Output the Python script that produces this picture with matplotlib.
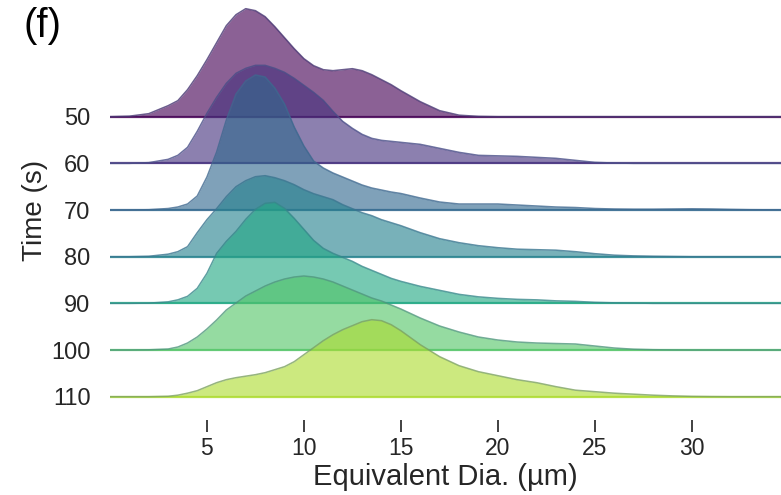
import matplotlib.pyplot as plt
import matplotlib.colors as mcolors
import numpy as np

plt.rcParams['font.family'] = ['Liberation Sans', 'DejaVu Sans']

times = [50, 60, 70, 80, 90, 100, 110]
dia = [0, 1, 2, 3, 3.5, 4, 4.5, 5, 5.5, 6, 6.5, 7, 7.5, 8, 8.5, 9, 9.5, 10,
       10.5, 11, 11.5, 12, 12.5, 13, 13.5, 14, 14.5, 15, 16, 17, 18, 19, 20,
       21, 22, 23, 24, 25, 26, 27, 28, 29, 30, 31, 32, 33, 34, 35]

# relative density (arbitrary units)
d50 = [0, 0.5, 3, 11, 16, 27, 41, 57, 74, 91, 102, 108, 106, 100, 90, 79, 68, 58,
       51, 47, 46, 47, 48, 46, 42, 37, 32, 26, 15, 6, 1.5, 0.3, 0,
       0, 0, 0, 0, 0, 0, 0, 0, 0, 0, 0, 0, 0, 0, 0]
d60 = [0, 0, 0.7, 4, 8, 16, 32, 50, 66, 80, 90, 95, 98, 98, 95, 91, 85, 78,
       71, 63, 52, 42, 35, 29, 25, 23, 22, 21, 19, 15, 11, 8, 7.5,
       7, 6, 5, 3, 1, 0.3, 0, 0, 0, 0, 0, 0, 0, 0, 0]
d70 = [0, 0, 0.3, 1.5, 3, 6, 14, 33, 58, 90, 116, 129, 135, 133, 122, 106, 83, 64,
       49, 42, 37, 33, 29, 25, 22, 20, 18, 16.5, 12, 8, 6, 6, 6,
       5, 4, 3, 2.5, 1.5, 1, 0.8, 0.8, 1, 1.2, 1, 0.6, 0.3, 0.2, 0.1]
d80 = [0, 0, 0.4, 2.5, 5, 10, 24, 37, 48, 60, 70, 76, 80, 81, 79, 76, 72, 67,
       63, 60, 57, 52, 48, 44, 41, 37, 34, 31, 24, 18, 14, 11, 9,
       7.5, 7, 6.5, 5, 3, 1.5, 0.8, 0.4, 0.2, 0, 0, 0, 0, 0, 0]
d90 = [0, 0, 0.2, 1.5, 3.5, 7, 15, 30, 50, 62, 72, 84, 94, 100, 101, 95, 85, 74,
       63, 55, 50, 46, 42, 37, 33, 29, 25, 22, 17, 13, 9, 6.5, 5,
       4, 3.5, 2.5, 2, 1, 0.5, 0.3, 0, 0, 0, 0, 0, 0, 0, 0]
d100 = [0, 0, 0.2, 1, 3, 7, 13, 21, 30, 40, 47, 54, 59, 64, 68, 71, 73, 74,
        73, 71, 68, 64, 60, 56, 52, 49, 45, 41, 32, 24, 18, 13, 10,
        8, 7, 6.5, 6, 4, 2, 0.8, 0.3, 0.1, 0, 0, 0, 0, 0, 0]
d110 = [0, 0, 0, 0.4, 1.5, 3.5, 6, 10, 14, 17, 19, 20.5, 22, 24, 27, 30, 35, 42,
        49, 56, 62, 67, 71, 75, 77, 76, 72, 66, 52, 40, 31, 25, 21,
        17, 14, 10, 6.5, 5, 3.5, 2.5, 1.5, 0.8, 0.3, 0.1, 0, 0, 0, 0]
series = [d50, d60, d70, d80, d90, d100, d110]
colors = ['#440154', '#46327e', '#31688e', '#26828e', '#22a884', '#54c568', '#addc30']

fig = plt.figure(figsize=(7.81, 4.95), dpi=100)
ax = fig.add_axes([0.1408, 0.1515, 0.8592, 0.8485])

scale = 1 / 46.67
n = len(times)
slate = np.array(mcolors.to_rgb('#4a6890'))
for i, (d, c) in enumerate(zip(series, colors)):
    base = n - 1 - i
    top = base + np.array(d) * scale
    edge = 0.5 * np.array(mcolors.to_rgb(c)) + 0.5 * slate
    ax.fill_between(dia, base, top, color=c, alpha=0.62, lw=0, zorder=i)
    ax.axhline(base, color=c, lw=1.6, alpha=0.85, zorder=i)
    ax.plot(dia, top, color=edge, lw=1.1, alpha=0.8, zorder=i)

ax.set_xlim(0, 34.6)
ax.set_ylim(-0.5, 8.5)
ax.set_xticks([5, 10, 15, 20, 25, 30])
ax.set_yticks([n - 1 - i for i in range(n)])
ax.set_yticklabels([str(t) for t in times])
ax.tick_params(axis='x', length=8.5, width=1.3, color='#333333', labelsize=16.5,
               labelcolor='#262626', pad=4)
ax.tick_params(axis='y', length=0, labelsize=17, labelcolor='#262626', pad=14)
for sp in ax.spines.values():
    sp.set_visible(False)

ax.set_xlabel('Equivalent Dia. (µm)', fontsize=21, color='#262626', labelpad=2)
ax.set_ylabel('Time (s)', fontsize=20, color='#262626', labelpad=2)
fig.text(0.03, 0.985, '(f)', fontsize=29, va='top', ha='left', color='black')

fig.savefig('out.png', dpi=100)
